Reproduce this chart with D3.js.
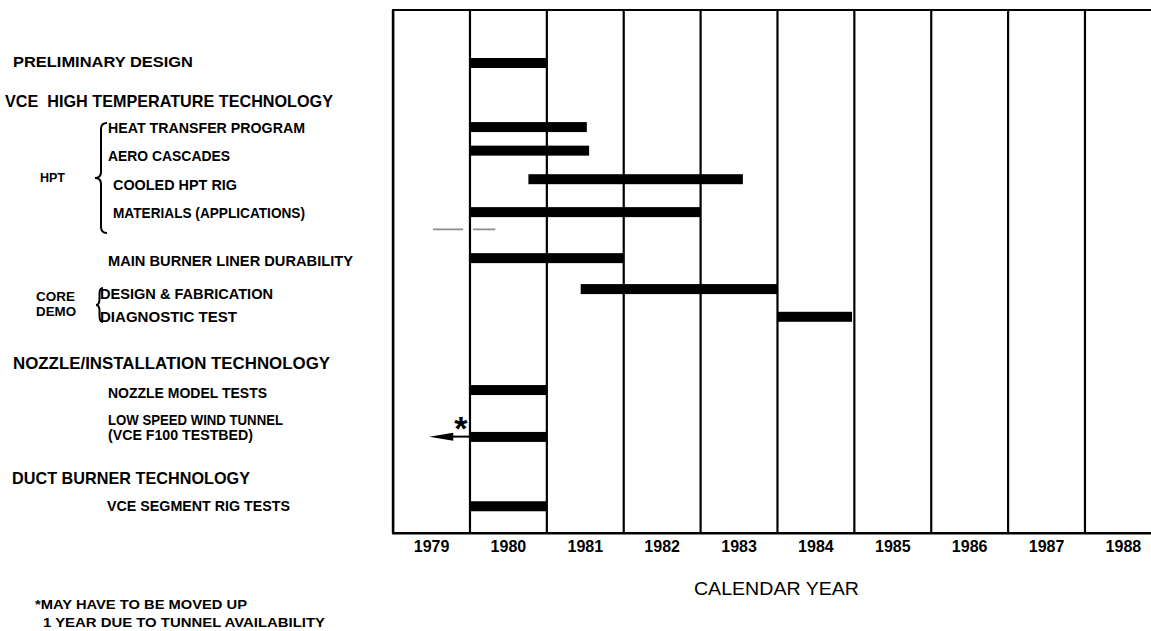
<!DOCTYPE html>
<html>
<head>
<meta charset="utf-8">
<script src="https://cdn.jsdelivr.net/npm/d3@7"></script>
<style>
  body { margin: 0; background: #fff; }
  svg { display: block; }
  text { font-family: "Liberation Sans", Arial, Helvetica, sans-serif; fill: #000; }
</style>
</head>
<body>
<svg id="chart" width="1151" height="631"></svg>
<script>
// ---- data -------------------------------------------------------------
const years = [1979, 1980, 1981, 1982, 1983, 1984, 1985, 1986, 1987, 1988];

const tasks = [
  "PRELIMINARY DESIGN",
  "HEAT TRANSFER PROGRAM",
  "AERO CASCADES",
  "COOLED HPT RIG",
  "MATERIALS (APPLICATIONS)",
  "MAIN BURNER LINER DURABILITY",
  "DESIGN & FABRICATION",
  "DIAGNOSTIC TEST",
  "NOZZLE MODEL TESTS",
  "LOW SPEED WIND TUNNEL",
  "VCE SEGMENT RIG TESTS"
];
const taskSubtitle = ["", "", "", "", "", "", "", "", "", "(VCE F100 TESTBED)", ""];

// schedule, in fractional calendar years
const taskStart = [1980.0, 1980.0, 1980.0, 1980.76, 1980.0, 1980.0, 1981.44, 1984.0, 1980.0, 1980.0, 1980.0];
const taskEnd   = [1981.0, 1981.52, 1981.55, 1983.55, 1983.0, 1982.0, 1984.0, 1984.97, 1981.0, 1981.0, 1981.0];

// wind tunnel tests may move up toward 1979 (flagged with *)
const movedTask = 9;
const movedTo = 1979.47;

const headers = [
  "VCE  HIGH TEMPERATURE TECHNOLOGY",
  "NOZZLE/INSTALLATION TECHNOLOGY",
  "DUCT BURNER TECHNOLOGY"
];
const groups = ["HPT", "CORE", "DEMO"];
const footnote = ["*MAY HAVE TO BE MOVED UP", "1 YEAR DUE TO TUNNEL AVAILABILITY"];
const axisTitle = "CALENDAR YEAR";

// ---- layout -----------------------------------------------------------
const W = 1151, H = 631;
const plotTop = 10, plotBottom = 533.3;
const barH = 10;

// row positions in slot units (0 = top of frame, 24 = axis)
const barRow = [2.43, 5.37, 6.45, 7.76, 9.27, 11.38, 12.80, 14.07, 17.43, 19.58, 22.76];
// label layout: [x, centre y, text width]
const taskLabelPos = [
  [13, 61.7, 180], [108, 127.5, 197], [108, 155, 122], [113, 184.3, 124],
  [113, 212.7, 192], [108, 260.7, 245], [100, 293.3, 173], [100, 316, 137],
  [108, 392.7, 159], [108, 419.3, 175], [107, 505, 183]
];
const subtitlePos = [108, 434.3, 145];
const headerPos = [[5, 101, 328], [13, 363.3, 317], [12, 478.3, 238]];
const groupPos = [[40, 178, 25], [36, 296.7, 39], [36, 311.7, 40]];
const footPos = [[35, 604, 212], [43, 622.7, 282]];

const svg = d3.select("#chart");

const x = d3.scaleLinear().domain([1979, 1989]).range([393.1, 393.1 + 10 * 76.875]);
const xBand = d3.scaleBand().domain(years).range(x.range()).paddingInner(0).paddingOuter(0);
const y = d3.scaleLinear().domain([0, 24]).range([plotTop, plotBottom]);

// ---- frame and year columns ------------------------------------------
const frame = svg.append("g").attr("stroke", "#000").attr("fill", "none");
frame.append("line")
  .attr("x1", x(1979) - 1).attr("x2", W)
  .attr("y1", plotTop).attr("y2", plotTop)
  .attr("stroke-width", 2);
frame.selectAll("line.col")
  .data(years)
  .join("line")
  .attr("class", "col")
  .attr("x1", d => x(d)).attr("x2", d => x(d))
  .attr("y1", plotTop).attr("y2", plotBottom)
  .attr("stroke-width", (d, i) => i === 0 ? 2.6 : 2.2);

// bottom axis with year labels centred in each column
const axis = d3.axisBottom(xBand).tickSize(0).tickSizeOuter(0).tickPadding(7.5);
const gAxis = svg.append("g")
  .attr("transform", `translate(0,${plotBottom})`)
  .call(axis);
gAxis.select(".domain")
  .attr("d", `M${x(1979) - 1},0H${W}`)
  .attr("stroke", "#000").attr("stroke-width", 2.4);
gAxis.selectAll(".tick text")
  .attr("fill", "#000")
  .style("font-family", '"Liberation Sans", Arial, sans-serif')
  .style("font-size", "16px")
  .style("font-weight", "bold");

svg.append("text")
  .attr("x", (x(1979) + x(1989)) / 2 - 1)
  .attr("y", 588.3 + 0.358 * 18.5)
  .attr("text-anchor", "middle")
  .attr("textLength", 165).attr("lengthAdjust", "spacingAndGlyphs")
  .style("font-size", "18.5px")
  .text(axisTitle);

// ---- bars -------------------------------------------------------------
svg.append("g")
  .selectAll("rect")
  .data(tasks.map((t, i) => ({ t, s: taskStart[i], e: taskEnd[i], r: barRow[i] })))
  .join("rect")
  .attr("x", d => x(d.s))
  .attr("width", d => x(d.e) - x(d.s))
  .attr("y", d => y(d.r) - barH / 2)
  .attr("height", barH)
  .attr("fill", "#000");

// arrow showing the possible earlier start of the wind tunnel tests
const ay = y(barRow[movedTask]) - 0.3;
const ax0 = x(taskStart[movedTask]);
const ax1 = x(movedTo);
svg.append("line")
  .attr("x1", ax0).attr("x2", ax1 + 20)
  .attr("y1", ay).attr("y2", ay)
  .attr("stroke", "#000").attr("stroke-width", 2);
svg.append("path")
  .attr("d", `M${ax1},${ay} L${ax1 + 24},${ay - 4} L${ax1 + 24},${ay + 4} Z`)
  .attr("fill", "#000");
svg.append("text")
  .attr("x", ax0 - 9).attr("y", ay - 10 + 0.55 * 34 - 5)
  .attr("text-anchor", "middle")
  .style("font-size", "34px").style("font-weight", "bold")
  .text("*");

// short grey dashed rule left of the 1980 column
svg.append("line")
  .attr("x1", x(1979.52)).attr("x2", x(1980.33))
  .attr("y1", y(10.06)).attr("y2", y(10.06))
  .attr("stroke", "#8c8c8c").attr("stroke-width", 1.6)
  .attr("stroke-dasharray", "30,10,22,0");

// ---- row labels -------------------------------------------------------
function label(g, txt, pos, size, weight) {
  g.append("text")
    .attr("x", pos[0])
    .attr("y", pos[1] + 0.358 * size)
    .attr("textLength", pos[2])
    .attr("lengthAdjust", "spacingAndGlyphs")
    .style("font-size", size + "px")
    .style("font-weight", weight)
    .style("white-space", "pre")
    .text(txt);
}
const gl = svg.append("g");
tasks.forEach((t, i) => label(gl, t, taskLabelPos[i], 15.5, "bold"));
label(gl, taskSubtitle[movedTask], subtitlePos, 15.5, "bold");
headers.forEach((t, i) => label(gl, t, headerPos[i], 17, "bold"));
groups.forEach((t, i) => label(gl, t, groupPos[i], 12.5, "bold"));
footnote.forEach((t, i) => label(gl, t, footPos[i], 13, "bold"));

// curly braces grouping the HPT and core demo items
function brace(xTip, y0, y1, w) {
  const ym = (y0 + y1) / 2, xm = xTip + w / 2, r = Math.min(w, 6);
  return `M${xTip + w},${y0} Q${xm},${y0} ${xm},${y0 + r} L${xm},${ym - r}` +
         ` Q${xm},${ym} ${xTip},${ym} Q${xm},${ym} ${xm},${ym + r}` +
         ` L${xm},${y1 - r} Q${xm},${y1} ${xTip + w},${y1}`;
}
svg.append("path").attr("d", brace(95, 123, 233, 12))
  .attr("fill", "none").attr("stroke", "#000").attr("stroke-width", 2);
svg.append("path").attr("d", brace(96, 288, 322, 7))
  .attr("fill", "none").attr("stroke", "#000").attr("stroke-width", 2);
</script>
</body>
</html>
